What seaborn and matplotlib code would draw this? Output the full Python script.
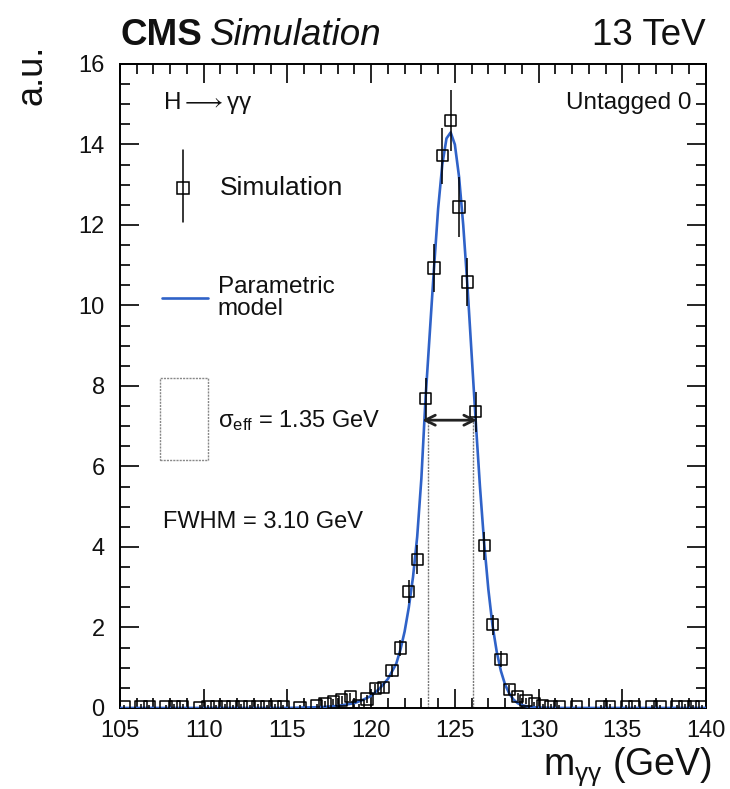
import numpy as np
import pandas as pd
import matplotlib
matplotlib.use("Agg")
import matplotlib.pyplot as plt
from matplotlib.patches import Rectangle
from matplotlib.ticker import MultipleLocator
import seaborn as sns

# ---------------- data ----------------
sim_mass = [105.25, 106.25, 106.75, 107.75, 108.25, 108.75, 109.75, 110.25,
            110.75, 111.25, 111.75, 112.25, 112.75, 113.25, 113.75, 114.25,
            114.75, 115.75, 116.75, 117.25, 117.75, 118.25, 118.75, 119.25,
            119.75, 120.25, 120.75, 121.25, 121.75, 122.25, 122.75, 123.25,
            123.75, 124.25, 124.75, 125.25, 125.75, 126.25, 126.75, 127.25,
            127.75, 128.25, 128.75, 129.25, 129.75, 130.25, 130.75, 131.25,
            132.25, 133.75, 134.25, 135.25, 135.75, 136.75, 137.25, 138.25,
            138.75, 139.25, 139.75]
sim_value = [0.03, 0.04, 0.03, 0.03, 0.04, 0.04, 0.02, 0.03,
             0.03, 0.04, 0.03, 0.04, 0.03, 0.04, 0.03, 0.04,
             0.03, 0.02, 0.05, 0.10, 0.15, 0.20, 0.28, 0.05,
             0.22, 0.48, 0.50, 0.93, 1.49, 2.90, 3.69, 7.69,
             10.93, 13.72, 14.60, 12.45, 10.58, 7.36, 4.03, 2.07,
             1.21, 0.45, 0.28, 0.18, 0.10, 0.06, 0.04, 0.03,
             0.03, 0.03, 0.04, 0.03, 0.03, 0.03, 0.03, 0.03,
             0.04, 0.03, 0.03]
sim_error = [0.05, 0.05, 0.05, 0.05, 0.05, 0.05, 0.05, 0.05,
             0.05, 0.05, 0.05, 0.05, 0.05, 0.05, 0.05, 0.05,
             0.05, 0.05, 0.06, 0.07, 0.08, 0.09, 0.10, 0.06,
             0.09, 0.12, 0.12, 0.15, 0.20, 0.28, 0.35, 0.50,
             0.60, 0.70, 0.75, 0.75, 0.60, 0.50, 0.35, 0.25,
             0.20, 0.12, 0.10, 0.08, 0.06, 0.05, 0.05, 0.05,
             0.05, 0.05, 0.05, 0.05, 0.05, 0.05, 0.05, 0.05,
             0.05, 0.05, 0.05]

model_mass = [105.0, 110.0, 115.0, 117.0, 118.0, 119.0, 119.5, 120.0, 120.5,
              121.0, 121.5, 121.75, 122.0, 122.25, 122.5, 122.75, 123.0,
              123.25, 123.5, 123.75, 124.0, 124.25, 124.5, 124.75, 125.0,
              125.25, 125.5, 125.75, 126.0, 126.25, 126.5, 126.75, 127.0,
              127.25, 127.5, 127.75, 128.0, 128.25, 128.5, 128.75, 129.0,
              129.5, 130.0, 131.0, 135.0, 140.0]
model_value = [0.0, 0.0, 0.0, 0.02, 0.05, 0.12, 0.20, 0.30, 0.48,
               0.72, 1.10, 1.45, 1.90, 2.50, 3.25, 4.25, 5.70,
               7.70, 9.30, 10.90, 12.40, 13.50, 14.15, 14.30, 14.00,
               13.20, 12.00, 10.50, 8.80, 7.10, 5.50, 4.10, 2.95,
               2.05, 1.40, 0.92, 0.58, 0.36, 0.21, 0.12, 0.07,
               0.025, 0.008, 0.0, 0.0, 0.0]

sigma_eff_edges = [123.4, 126.1]
fwhm_edges = [123.05, 126.32]
half_max = 7.15

x_ticks = [105, 110, 115, 120, 125, 130, 135, 140]
y_ticks = [0, 2, 4, 6, 8, 10, 12, 14, 16]

sim_df = pd.DataFrame({"mass": sim_mass, "value": sim_value, "err": sim_error})
model_df = pd.DataFrame({"mass": model_mass, "value": model_value})

# ---------------- style ----------------
sns.set_theme(style="ticks")
plt.rcParams["font.family"] = ["Liberation Sans", "DejaVu Sans"]
plt.rcParams["mathtext.fontset"] = "custom"
plt.rcParams["mathtext.rm"] = "Liberation Sans"
plt.rcParams["mathtext.it"] = "Liberation Sans:italic"
plt.rcParams["mathtext.bf"] = "Liberation Sans:bold"

BLUE = "#2f62c8"
TXT = "#111111"
fig = plt.figure(figsize=(7.30, 7.89), dpi=100)
ax = fig.add_axes([0.1644, 0.1027, 0.8027, 0.8162])

# model curve
sns.lineplot(data=model_df, x="mass", y="value", ax=ax, color=BLUE,
             linewidth=1.9, zorder=3, sort=False)

# simulation: error bars + open squares
ax.errorbar(sim_df["mass"], sim_df["value"], yerr=sim_df["err"], fmt="none",
            ecolor="black", elinewidth=1.1, capsize=0, zorder=4)
sns.scatterplot(data=sim_df, x="mass", y="value", ax=ax, marker="s", s=66,
                facecolor="none", edgecolor="black", linewidth=1.1, zorder=5)

# sigma_eff lines and FWHM arrow
ax.vlines(sigma_eff_edges, 0, half_max, colors="#777777", linewidth=1.0,
          linestyles=(0, (1.5, 0.8)), zorder=2)
ax.annotate("", xy=(fwhm_edges[0], half_max), xytext=(fwhm_edges[1], half_max),
            arrowprops=dict(arrowstyle="<->,head_length=0.6,head_width=0.3",
                            color="#222222", lw=2.0, shrinkA=0, shrinkB=0),
            zorder=6)

ax.set_xlim(105, 140)
ax.set_ylim(0, 16)
ax.set_xticks(x_ticks)
ax.set_yticks(y_ticks)
ax.xaxis.set_minor_locator(MultipleLocator(1))
ax.yaxis.set_minor_locator(MultipleLocator(0.5))
ax.tick_params(which="both", direction="in", top=True, right=True,
               color="black", width=1.2, labelsize=17, labelcolor=TXT)
ax.tick_params(which="major", length=14)
ax.tick_params(which="minor", length=7)
ax.tick_params(axis="x", pad=9)
ax.tick_params(axis="y", pad=11)
ax.set_xlabel("")
ax.set_ylabel("")
for sp in ax.spines.values():
    sp.set_color("black")
    sp.set_linewidth(1.4)

# ---------------- in-plot texts / legend ----------------
T = ax.transAxes
ax.text(0.0734, 0.939, r"H$\longrightarrow$γγ", transform=T, fontsize=17.5,
        va="center", ha="left", color=TXT)
ax.text(0.976, 0.939, "Untagged 0", transform=T, fontsize=17.5, va="center",
        ha="right", color=TXT)

# legend: simulation
ax.plot([0.1075, 0.1075], [0.755, 0.866], transform=T, color="black",
        lw=1.1, clip_on=False)
ax.plot([0.1075], [0.807], transform=T, marker="s", ms=8, mfc="none",
        mec="black", mew=1.1, clip_on=False)
ax.text(0.170, 0.807, "Simulation", transform=T, fontsize=19, va="center",
        ha="left", color=TXT)
# legend: model
ax.plot([0.0717, 0.150], [0.6366, 0.6366], transform=T, color=BLUE, lw=1.9)
ax.text(0.167, 0.6366, "Parametric\nmodel", transform=T, fontsize=17.5,
        va="center", ha="left", color=TXT, linespacing=0.95)
# legend: sigma_eff box
ax.add_patch(Rectangle((0.068, 0.385), 0.082, 0.127, transform=T,
                       fill=False, edgecolor="#888888", lw=1.0,
                       linestyle=(0, (1.5, 0.8))))
ax.text(0.167, 0.447, r"σ$_{\rm eff}$ = 1.35 GeV", transform=T, fontsize=17,
        va="center", ha="left", color=TXT)
ax.text(0.0734, 0.289, "FWHM = 3.10 GeV", transform=T, fontsize=17,
        va="center", ha="left", color=TXT)

# ---------------- header / axis labels ----------------
fig.text(0.1644, 0.943, "CMS", fontsize=26.5, fontweight="bold",
         ha="left", va="baseline", color=TXT)
fig.text(0.288, 0.943, "Simulation", fontsize=26.5, style="italic",
         ha="left", va="baseline", color=TXT)
fig.text(0.967, 0.943, "13 TeV", fontsize=26.5, ha="right", va="baseline",
         color=TXT)
fig.text(0.044, 0.943, "a.u.", fontsize=26, rotation=90, ha="center",
         va="top", color=TXT)
fig.text(0.975, 0.018, r"m$_{\rm γγ}$ (GeV)", fontsize=27, ha="right",
         va="baseline", color=TXT)

fig.savefig("out.png", dpi=100)
